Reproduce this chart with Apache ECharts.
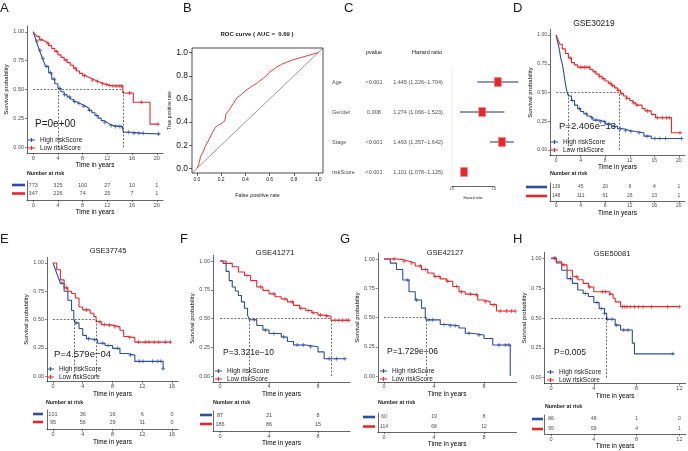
<!DOCTYPE html>
<html>
<head>
<meta charset="utf-8">
<script src="https://cdn.jsdelivr.net/npm/echarts@6/dist/echarts.min.js"></script>
<style>
html, body { margin: 0; padding: 0; background: #fff; }
#chart { width: 688px; height: 451px; }
</style>
</head>
<body>
<div id="chart"></div>
<script>
// ---------- data ----------
// A: TCGA training set
const aHigh = [[0,1],[0.25,0.96],[0.5,0.92],[0.75,0.88],[1,0.84],[1.25,0.805],[1.5,0.77],[1.75,0.735],[2,0.70],[2.5,0.645],[3,0.59],[3.5,0.55],[4,0.51],[4.5,0.48],[5,0.455],[5.5,0.435],[6,0.415],[6.5,0.395],[7,0.38],[7.5,0.368],[8,0.355],[8.5,0.338],[9,0.32],[9.5,0.298],[10,0.275],[10.5,0.252],[11,0.23],[11.5,0.213],[12,0.197],[12.5,0.187],[13,0.18],[14.4,0.175],[14.6,0.13],[16,0.12],[18,0.115],[20.5,0.11]];
const aLow = [[0,1],[0.3,0.98],[0.6,0.96],[1,0.93],[1.5,0.915],[2,0.90],[2.5,0.88],[3,0.855],[3.5,0.83],[4,0.80],[4.5,0.778],[5,0.755],[5.5,0.733],[6,0.71],[6.5,0.685],[7,0.66],[7.5,0.64],[8,0.62],[8.5,0.607],[9,0.595],[9.5,0.582],[10,0.57],[10.5,0.56],[11,0.55],[11.5,0.542],[12,0.535],[12.5,0.53],[14.5,0.47],[16.2,0.39],[18.9,0.20],[20.3,0.20]];
const aHighCens = [0.6,1.1,1.6,2.2,2.8,3.4,4.3,5.1,5.9,6.7,7.4,8.2,9.1,10.3,11.6,12.6,13.3,13.9,14.2,15.4,16.3,17.1,17.8,20.3];
const aLowCens = [1.3,2.4,3.8,5.3,6.8,8.3,9.6,10.4,11.2,11.9,12.4,12.9,13.4,13.9,14.3,15.6,17.5,20.2];
const aMedian = [4.05, 14.5];
const aRiskTimes = [0,4,8,12,16,20];
const aRiskHigh = [773,325,100,27,10,1];
const aRiskLow = [347,226,74,25,7,1];
const aPval = 'P=0e+00';

// D: GSE30219
const dHigh = [[0,1],[0.2,0.95],[0.5,0.88],[0.75,0.80],[1,0.75],[1.25,0.67],[1.5,0.58],[1.75,0.51],[2,0.47],[2.5,0.43],[3,0.39],[3.5,0.36],[4,0.335],[4.5,0.315],[5,0.295],[5.5,0.28],[6,0.26],[7,0.245],[8,0.225],[9,0.205],[10,0.185],[11,0.17],[12,0.16],[13,0.15],[14.3,0.12],[15.5,0.10],[20.5,0.10]];
const dLow = [[0,1],[0.3,0.96],[0.6,0.92],[1,0.88],[1.5,0.84],[2,0.80],[2.5,0.76],[3,0.74],[3.5,0.72],[5.5,0.70],[6,0.68],[6.5,0.66],[7,0.64],[7.5,0.62],[8,0.60],[8.5,0.58],[9,0.56],[9.5,0.54],[10,0.52],[10.5,0.49],[11,0.47],[11.5,0.45],[12,0.43],[12.5,0.41],[13,0.39],[14,0.36],[14.5,0.34],[15.5,0.31],[16.2,0.28],[18.8,0.15],[20.3,0.15]];
const dHighCens = [2.6,3.8,4.9,5.8,6.5,7.2,7.9,8.6,9.5,10.5,11.3,12.2,13.5,14.8,16.1,16.9,17.8,20.4];
const dLowCens = [2.3,3.9,4.2,4.6,5.0,5.4,6.3,7.1,7.7,8.8,9.2,10.1,10.7,11.5,12.6,13.2,14.9,16.5,17.3,18.0,18.5,20.2];
const dMedian = [2.0, 10.35];
const dRiskTimes = [0,4,8,12,16,20];
const dRiskHigh = [139,45,20,8,4,1];
const dRiskLow = [148,111,61,26,13,1];
const dPval = 'P=2.406e\u221213';

// E: GSE37745
const eHigh = [[0,1],[0.25,0.955],[0.5,0.91],[0.75,0.865],[1,0.82],[1.5,0.75],[2,0.67],[2.5,0.58],[2.8,0.50],[3,0.47],[3.5,0.42],[4,0.36],[4.5,0.33],[5,0.32],[6,0.29],[7,0.27],[8,0.245],[9,0.20],[10,0.185],[11,0.13],[14.8,0.065]];
const eLow = [[0,1],[0.5,0.94],[1,0.85],[1.5,0.78],[2,0.75],[2.5,0.73],[3,0.69],[3.5,0.61],[4,0.585],[5,0.555],[5.5,0.525],[5.8,0.48],[6.5,0.455],[7,0.45],[8,0.435],[9,0.405],[9.5,0.35],[10,0.34],[11,0.30],[15.8,0.30]];
const eHighCens = [1.2,3.1,4.8,5.6,6.7,7.4,8.7,10.4,11.6,12.1,13.4,14.1,14.5,14.8];
const eLowCens = [1.8,4.5,6.3,6.9,7.6,8.3,10.3,11.5,12.4,12.9,13.6,14.2,15.1,15.8];
const eMedian = [2.8, 5.8];
const eRiskTimes = [0,4,8,12,16];
const eRiskHigh = [101,36,16,6,0];
const eRiskLow = [95,56,29,11,0];
const ePval = 'P=4.579e\u221204';

// F: GSE41271
const fHigh = [[0,1],[0.25,0.98],[0.5,0.91],[0.75,0.83],[1,0.775],[1.25,0.74],[1.5,0.70],[1.75,0.645],[2,0.59],[2.25,0.53],[2.4,0.49],[3,0.44],[3.5,0.40],[4,0.37],[5,0.34],[5.5,0.30],[6,0.27],[7,0.255],[8,0.21],[8.5,0.15],[10.2,0.15]];
const fLow = [[0,1],[0.5,0.98],[1,0.95],[1.5,0.905],[2,0.875],[2.5,0.83],[3,0.775],[3.5,0.745],[4,0.715],[4.5,0.69],[5,0.67],[5.5,0.645],[6,0.615],[6.5,0.59],[7,0.57],[7.5,0.55],[8,0.53],[8.5,0.52],[9.06,0.485],[10.6,0.485]];
const fHighCens = [2.8,3.7,4.4,5.2,6.3,6.8,7.4,8.9,9.5,10.2];
const fLowCens = [2.2,3.3,4.4,5.3,5.9,6.6,7.2,7.6,8.2,8.7,9.4,9.7,10.0,10.3,10.5];
const fMedian = [2.4, 9.06];
const fRiskTimes = [0,4,8];
const fRiskHigh = [87,21,8];
const fRiskLow = [186,86,15];
const fPval = 'P=3.321e\u221210';

// G: GSE42127
const gHigh = [[0,1],[0.5,0.965],[1,0.91],[1.5,0.82],[2,0.72],[2.5,0.65],[3,0.58],[3.3,0.52],[3.36,0.48],[4.5,0.44],[5,0.43],[6,0.41],[6.5,0.365],[7,0.35],[8,0.32],[8.7,0.265],[10.1,0]];
const gLow = [[0,1],[1,0.995],[1.5,0.98],[2,0.965],[2.5,0.94],[3,0.91],[3.5,0.88],[4,0.85],[4.5,0.83],[5,0.81],[5.5,0.765],[6,0.72],[6.5,0.70],[7,0.695],[7.5,0.65],[8,0.635],[8.5,0.61],[9,0.555],[10.5,0.555]];
const gHighCens = [1.9,2.6,3.6,3.9,4.8,5.3,5.7,6.8,7.6,9.2,9.7,10.0];
const gLowCens = [0.8,1.6,2.2,2.9,3.3,4.1,4.4,5.1,5.8,6.2,6.9,7.4,8.1,8.8,9.3,9.8,10.2,10.5];
const gMedian = [3.36, null];
const gRiskTimes = [0,4,8];
const gRiskHigh = [60,19,8];
const gRiskLow = [114,68,12];
const gPval = 'P=1.729e\u221206';

// H: GSE50081
const hHigh = [[0,1],[0.5,0.96],[1,0.90],[1.5,0.83],[2,0.79],[2.5,0.735],[3,0.705],[3.5,0.68],[4,0.63],[4.5,0.58],[5,0.54],[5.2,0.49],[6,0.44],[6.5,0.40],[7.6,0.29],[7.8,0.20],[11.5,0.20]];
const hLow = [[0,1],[0.5,0.97],[1,0.945],[1.5,0.90],[2,0.845],[2.5,0.82],[3,0.79],[3.5,0.76],[4,0.72],[5.5,0.70],[5.8,0.665],[6,0.635],[6.5,0.595],[12,0.595]];
const hHighCens = [0.3,1.8,3.2,4.3,4.7,5.0,5.3,5.7,6.1,6.8,7.2,11.4];
const hLowCens = [0.4,1.2,2.4,3.6,4.8,5.1,5.5,6.7,6.9,7.1,7.4,7.8,8.2,8.6,9.4,10.9,12.0];
const hMedian = [5.2, null];
const hRiskTimes = [0,4,8,12];
const hRiskHigh = [86,48,1,0];
const hRiskLow = [95,59,4,1];
const hPval = 'P=0.005';

// B: ROC
const rocFpr = [0,0.01,0.02,0.03,0.05,0.07,0.09,0.11,0.13,0.15,0.17,0.2,0.23,0.24,0.27,0.3,0.33,0.37,0.4,0.44,0.5,0.55,0.6,0.65,0.7,0.76,0.8,0.85,0.9,0.95,1];
const rocTpr = [0,0.02,0.05,0.1,0.14,0.19,0.23,0.27,0.31,0.35,0.37,0.385,0.41,0.47,0.51,0.56,0.61,0.64,0.67,0.70,0.74,0.78,0.83,0.87,0.90,0.925,0.94,0.955,0.97,0.985,1];
const rocTicks = [0,0.2,0.4,0.6,0.8,1];
const rocAuc = 0.69;

// C: multivariate Cox
const coxVars = ['Age','Gender','Stage','riskScore'];
const coxP = ['<0.001','0.008','<0.001','<0.001'];
const coxHR = [1.445,1.274,1.493,1.101];
const coxLow = [1.226,1.066,1.357,1.078];
const coxHigh = [1.704,1.523,1.642,1.125];
const coxTicks = [1.0, 1.4];

const survTicks = [0,0.25,0.5,0.75,1];

// ---------- styling ----------
const BLUE = '#2c4ea3';
const RED = '#e8272b';
const INK = '#1a1a1a';
const TICK = '#4d4d4d';
const FONT = '"Liberation Sans", Arial, sans-serif';
const PLUS = 'path://M0,3.9H10V6.1H0ZM3.9,0H6.1V10H3.9Z';
const LEG_ICON = 'path://M0,3.6H16V6.4H0ZM6.6,0.5H9.4V9.5H6.6Z';

const grids = [], xAxes = [], yAxes = [], series = [], legends = [], texts = [];

function text(x, y, str, size, extra) {
  texts.push({
    type: 'text', x, y, silent: true,
    style: Object.assign({ text: str, fontSize: size, fontFamily: FONT, fill: INK, align: 'left', verticalAlign: 'middle' }, extra || {})
  });
}

function stepAt(curve, t) {
  let s = curve[0][1];
  for (let i = 0; i < curve.length; i++) {
    if (curve[i][0] <= t) s = curve[i][1]; else break;
  }
  return s;
}

function timeAxis(gi, g, ticks, nameY, bottom) {
  return {
    gridIndex: gi, type: 'value', min: g.xmin, max: g.xmax,
    axisLine: { onZero: false, lineStyle: { color: '#000', width: 0.6 } },
    axisTick: { customValues: ticks, length: 2, lineStyle: { color: '#333', width: 0.6 } },
    axisLabel: { customValues: ticks, fontSize: g.tf, color: TICK, margin: 2, fontFamily: FONT },
    splitLine: { show: false },
    name: 'Time in years', nameLocation: 'middle', nameGap: nameY - bottom - 3.3,
    nameTextStyle: { fontSize: 6.5, color: '#000', fontFamily: FONT }
  };
}

function addKM(p) {
  const g = p.lay;
  const gi = grids.length;
  grids.push({ left: g.L, top: g.T, width: g.R - g.L, height: g.B - g.T });
  xAxes.push(timeAxis(gi, g, p.times, g.timeY, g.B));
  yAxes.push({
    gridIndex: gi, type: 'value', min: -0.05, max: 1.05,
    axisLine: { onZero: false, lineStyle: { color: '#000', width: 0.6 } },
    axisTick: { customValues: survTicks, length: 2, lineStyle: { color: '#333', width: 0.6 } },
    axisLabel: { customValues: survTicks, formatter: v => v.toFixed(2), fontSize: g.tf, color: TICK, margin: 3, fontFamily: FONT },
    splitLine: { show: false },
    name: 'Survival probability', nameLocation: 'middle', nameGap: g.L - g.yNameX - 3,
    nameTextStyle: { fontSize: 6, color: '#000', fontFamily: FONT }
  });

  const meds = p.median.filter(m => m !== null);
  const medLines = [[{ coord: [0, 0.5] }, { coord: [Math.max(...meds), 0.5] }]];
  meds.forEach(m => medLines.push([{ coord: [m, 0] }, { coord: [m, 0.5] }]));

  series.push({
    type: 'line', name: 'High riskScore', xAxisIndex: gi, yAxisIndex: gi, data: p.high, step: 'end',
    showSymbol: false, symbol: 'none', silent: true, z: 3,
    lineStyle: { color: BLUE, width: 1.1 }, itemStyle: { color: BLUE },
    markLine: {
      silent: true, symbol: ['none', 'none'], label: { show: false },
      lineStyle: { color: '#111', width: 0.6, type: [2, 1.6] }, data: medLines
    }
  });
  series.push({
    type: 'line', name: 'Low riskScore', xAxisIndex: gi, yAxisIndex: gi, data: p.low, step: 'end',
    showSymbol: false, symbol: 'none', silent: true, z: 3,
    lineStyle: { color: RED, width: 1.1 }, itemStyle: { color: RED }
  });
  series.push({
    type: 'scatter', xAxisIndex: gi, yAxisIndex: gi, symbol: PLUS, symbolSize: 4, silent: true, z: 4,
    itemStyle: { color: BLUE }, data: p.highCens.map(t => [t, stepAt(p.high, t)])
  });
  series.push({
    type: 'scatter', xAxisIndex: gi, yAxisIndex: gi, symbol: PLUS, symbolSize: 4, silent: true, z: 4,
    itemStyle: { color: RED }, data: p.lowCens.map(t => [t, stepAt(p.low, t)])
  });

  legends.push({
    left: g.legX - 1, top: g.legY - 4, orient: 'vertical', itemGap: 0, itemWidth: 7, itemHeight: 5, padding: 0,
    selectedMode: false,
    textStyle: { fontSize: 6.5, color: INK, fontFamily: FONT, lineHeight: 8 },
    data: [
      { name: 'High riskScore', icon: LEG_ICON, itemStyle: { color: BLUE } },
      { name: 'Low riskScore', icon: LEG_ICON, itemStyle: { color: RED } }
    ]
  });

  text(g.pX, g.pY, p.pval, g.pF);
  if (p.title) text(g.tX, g.tY, p.title, g.tF, { align: 'center' });

  // risk table
  const ri = grids.length;
  const top = g.r1 - 4, s = g.r2 - g.r1;
  grids.push({ left: g.L, top: top, width: g.R - g.L, height: g.rB - top });
  xAxes.push(timeAxis(ri, g, p.times, g.rTimeY, g.rB));
  yAxes.push({
    gridIndex: ri, type: 'value', min: 1 - (g.rB - g.r2) / s, max: 2 + (g.r1 - top) / s,
    axisLine: { onZero: false, lineStyle: { color: '#000', width: 0.6 } },
    axisTick: { show: false }, splitLine: { show: false },
    axisLabel: {
      customValues: [1, 2], margin: g.L - g.bar[1],
      formatter: v => (v > 1.5 ? '{hi| }' : '{lo| }'),
      rich: {
        hi: { backgroundColor: BLUE, width: g.bar[1] - g.bar[0], height: 2.6, fontSize: 2 },
        lo: { backgroundColor: RED, width: g.bar[1] - g.bar[0], height: 2.6, fontSize: 2 }
      }
    }
  });
  series.push({
    type: 'scatter', xAxisIndex: ri, yAxisIndex: ri, symbolSize: 1, silent: true,
    itemStyle: { color: 'rgba(0,0,0,0)' },
    label: { show: true, position: 'inside', formatter: q => String(q.value[2]), fontSize: g.nf, color: INK, fontFamily: FONT },
    data: p.times.map((t, i) => [t, 2, p.riskHigh[i]]).concat(p.times.map((t, i) => [t, 1, p.riskLow[i]]))
  });
  text(g.nar[0], g.nar[1], 'Number at risk', 5.3, { fontWeight: 'bold' });
}

const kmPanels = [
  { high: aHigh, low: aLow, highCens: aHighCens, lowCens: aLowCens, median: aMedian, times: aRiskTimes, riskHigh: aRiskHigh, riskLow: aRiskLow, pval: aPval, title: '',
    lay: { L: 27, R: 163, T: 26, B: 153, xmin: -1, xmax: 21, tf: 5.5, yNameX: 6, timeY: 164, pX: 35, pY: 124, pF: 10, legX: 29, legY: 140, nar: [27, 174], r1: 185, r2: 193.5, rB: 200, rTimeY: 212, bar: [12, 25], nf: 5.5 } },
  { high: dHigh, low: dLow, highCens: dHighCens, lowCens: dLowCens, median: dMedian, times: dRiskTimes, riskHigh: dRiskHigh, riskLow: dRiskLow, pval: dPval, title: 'GSE30219',
    lay: { L: 550, R: 685, T: 29.3, B: 155.7, xmin: -1, xmax: 21, tf: 5, yNameX: 532, timeY: 165, pX: 559, pY: 126, pF: 9.5, legX: 552, legY: 142, tX: 594, tY: 24, tF: 8.5, nar: [550, 174], r1: 187, r2: 196, rB: 201, rTimeY: 213, bar: [526, 547], nf: 5 } },
  { high: eHigh, low: eLow, highCens: eHighCens, lowCens: eLowCens, median: eMedian, times: eRiskTimes, riskHigh: eRiskHigh, riskLow: eRiskLow, pval: ePval, title: 'GSE37745',
    lay: { L: 47, R: 178, T: 257.3, B: 381.7, xmin: -0.8, xmax: 16.8, tf: 5.5, yNameX: 26, timeY: 393, pX: 54, pY: 354, pF: 9.5, legX: 48, legY: 369, tX: 108, tY: 251, tF: 7.5, nar: [46, 403], r1: 414, r2: 422, rB: 429.5, rTimeY: 441, bar: [33, 43], nf: 5.5 } },
  { high: fHigh, low: fLow, highCens: fHighCens, lowCens: fLowCens, median: fMedian, times: fRiskTimes, riskHigh: fRiskHigh, riskLow: fRiskLow, pval: fPval, title: 'GSE41271',
    lay: { L: 213, R: 350, T: 255.3, B: 381.8, xmin: -0.571, xmax: 10.61, tf: 5.5, yNameX: 193, timeY: 394, pX: 223, pY: 353, pF: 8.5, legX: 216, legY: 371, tX: 275, tY: 253, tF: 8, nar: [213, 403], r1: 415, r2: 424, rB: 431, rTimeY: 442, bar: [200, 212], nf: 5.5 } },
  { high: gHigh, low: gLow, highCens: gHighCens, lowCens: gLowCens, median: gMedian, times: gRiskTimes, riskHigh: gRiskHigh, riskLow: gRiskLow, pval: gPval, title: 'GSE42127',
    lay: { L: 377.75, R: 516.5, T: 253.15, B: 381.85, xmin: -0.5, xmax: 10.6, tf: 5.5, yNameX: 358, timeY: 394, pX: 387, pY: 352, pF: 8.5, legX: 381, legY: 371, tX: 445, tY: 253, tF: 7.5, nar: [378, 403], r1: 417, r2: 426.5, rB: 432, rTimeY: 444, bar: [363, 375], nf: 5 } },
  { high: hHigh, low: hLow, highCens: hHighCens, lowCens: hLowCens, median: hMedian, times: hRiskTimes, riskHigh: hRiskHigh, riskLow: hRiskLow, pval: hPval, title: 'GSE50081',
    lay: { L: 544.6, R: 685.8, T: 252.3, B: 383.7, xmin: -0.6, xmax: 12.6, tf: 5.5, yNameX: 525, timeY: 395, pX: 554, pY: 353, pF: 8.5, legX: 548, legY: 372, tX: 612, tY: 254, tF: 7.5, nar: [545, 407], r1: 419, r2: 429, rB: 434, rTimeY: 446, bar: [532, 543], nf: 5 } }
];
kmPanels.forEach(addKM);

// ---------- B: ROC ----------
const bi = grids.length;
grids.push({ left: 192, top: 48, width: 131, height: 125, show: true, borderColor: '#000', borderWidth: 0.7, backgroundColor: 'transparent' });
xAxes.push({
  gridIndex: bi, type: 'value', min: -0.04, max: 1.04,
  axisLine: { show: false, onZero: false },
  axisTick: { customValues: rocTicks, length: 3, lineStyle: { color: '#000', width: 0.6 } },
  axisLabel: { customValues: rocTicks, formatter: v => v.toFixed(1), fontSize: 5, color: INK, margin: 4, fontFamily: FONT },
  splitLine: { show: false },
  name: 'False positive rate', nameLocation: 'middle', nameGap: 19, nameTextStyle: { fontSize: 5.5, color: INK, fontFamily: FONT }
});
yAxes.push({
  gridIndex: bi, type: 'value', min: -0.04, max: 1.04,
  axisLine: { show: false, onZero: false },
  axisTick: { customValues: rocTicks, length: 3, lineStyle: { color: '#000', width: 0.6 } },
  axisLabel: { customValues: rocTicks, formatter: v => v.toFixed(1), fontSize: 8.5, color: INK, margin: 4, fontFamily: FONT },
  splitLine: { show: false },
  name: 'True positive rate', nameLocation: 'middle', nameGap: 16, nameTextStyle: { fontSize: 5, color: INK, fontFamily: FONT }
});
series.push({
  type: 'line', xAxisIndex: bi, yAxisIndex: bi, symbol: 'none', silent: true,
  lineStyle: { color: '#555', width: 0.6 }, data: [[-0.04, -0.04], [1.04, 1.04]]
});
series.push({
  type: 'line', xAxisIndex: bi, yAxisIndex: bi, symbol: 'none', silent: true,
  lineStyle: { color: RED, width: 0.9 }, data: rocFpr.map((f, i) => [f, rocTpr[i]])
});
text(257, 34, 'ROC curve ( AUC =  ' + rocAuc.toFixed(2) + ' )', 6, { align: 'center', fontWeight: 'bold' });

// ---------- C: forest plot ----------
const coxRows = [0, 1, 2, 3];
const ti = grids.length;
grids.push({ left: 330, top: 67, width: 120, height: 120 });
xAxes.push({ gridIndex: ti, type: 'value', min: 0, max: 120, show: false });
yAxes.push({ gridIndex: ti, type: 'value', min: -0.5, max: 3.5, inverse: true, show: false });
const hrText = coxRows.map(i => coxHR[i].toFixed(3) + ' (' + coxLow[i].toFixed(3) + '\u2212' + coxHigh[i].toFixed(3) + ')');
function tableCol(xPos, strings, align) {
  series.push({
    type: 'scatter', xAxisIndex: ti, yAxisIndex: ti, symbolSize: 1, silent: true, itemStyle: { color: 'rgba(0,0,0,0)' },
    label: { show: true, position: 'inside', align, formatter: q => strings[q.dataIndex], fontSize: 5.5, color: INK, fontFamily: FONT },
    data: coxRows.map(i => [xPos, i])
  });
}
tableCol(2, coxVars, 'left');
tableCol(44, coxP, 'center');
tableCol(88, hrText, 'center');
text(374, 52, 'pvalue', 5.5, { align: 'center' });
text(427, 52, 'Hazard ratio', 5.5, { align: 'center' });

const fi = grids.length;
grids.push({ left: 452, top: 67, width: 76, height: 120 });
xAxes.push({ gridIndex: fi, type: 'log', min: 1, max: 1.84, show: false });
yAxes.push({ gridIndex: fi, type: 'value', min: -0.5, max: 3.5, inverse: true, show: false });
series.push({
  type: 'line', xAxisIndex: fi, yAxisIndex: fi, symbol: 'none', silent: true, z: 1,
  lineStyle: { color: '#e2e2e2', width: 0.6 }, data: [[1, -0.5], [1, 3.35]]
});
series.push({
  type: 'custom', xAxisIndex: fi, yAxisIndex: fi, silent: true, clip: false, z: 3,
  encode: { x: [0, 1, 2], y: 3 },
  data: coxRows.map(i => [coxHR[i], coxLow[i], coxHigh[i], i]),
  renderItem: (params, api) => {
    const row = api.value(3);
    const c = api.coord([api.value(0), row]);
    const lo = api.coord([api.value(1), row]);
    const hi = api.coord([api.value(2), row]);
    return {
      type: 'group', children: [
        { type: 'line', shape: { x1: lo[0], y1: c[1], x2: hi[0], y2: c[1] }, style: { stroke: '#1f2f7a', lineWidth: 1 } },
        { type: 'rect', shape: { x: c[0] - 3.5, y: c[1] - 4.5, width: 7, height: 9 }, style: { fill: RED, stroke: '#f28a8c', lineWidth: 0.6 } }
      ]
    };
  }
});

const ai = grids.length;
grids.push({ left: 452, top: 185, width: 41.9, height: 1 });
xAxes.push({
  gridIndex: ai, type: 'value', min: 1, max: 1.4,
  axisLine: { onZero: false, lineStyle: { color: '#000', width: 0.6 } },
  axisTick: { customValues: coxTicks, length: 1.5, lineStyle: { color: '#000', width: 0.5 } },
  axisLabel: { customValues: coxTicks, formatter: v => v.toFixed(1), fontSize: 3, color: INK, margin: 1.5, fontFamily: FONT },
  splitLine: { show: false },
  name: 'Hazard ratio', nameLocation: 'middle', nameGap: 10, nameTextStyle: { fontSize: 3.5, color: INK, fontFamily: FONT }
});
yAxes.push({ gridIndex: ai, type: 'value', show: false });

// ---------- panel letters ----------
[['A', 0, 8], ['B', 183, 8], ['C', 344, 8], ['D', 513, 8], ['E', 0, 239], ['F', 180, 239], ['G', 340, 239], ['H', 513, 239]]
  .forEach(([s, x, y]) => text(x, y, s, 13));

const chart = echarts.init(document.getElementById('chart'));
chart.setOption({
  animation: false,
  backgroundColor: '#fff',
  textStyle: { fontFamily: FONT },
  grid: grids,
  xAxis: xAxes,
  yAxis: yAxes,
  legend: legends,
  series: series,
  graphic: texts
});
</script>
</body>
</html>
